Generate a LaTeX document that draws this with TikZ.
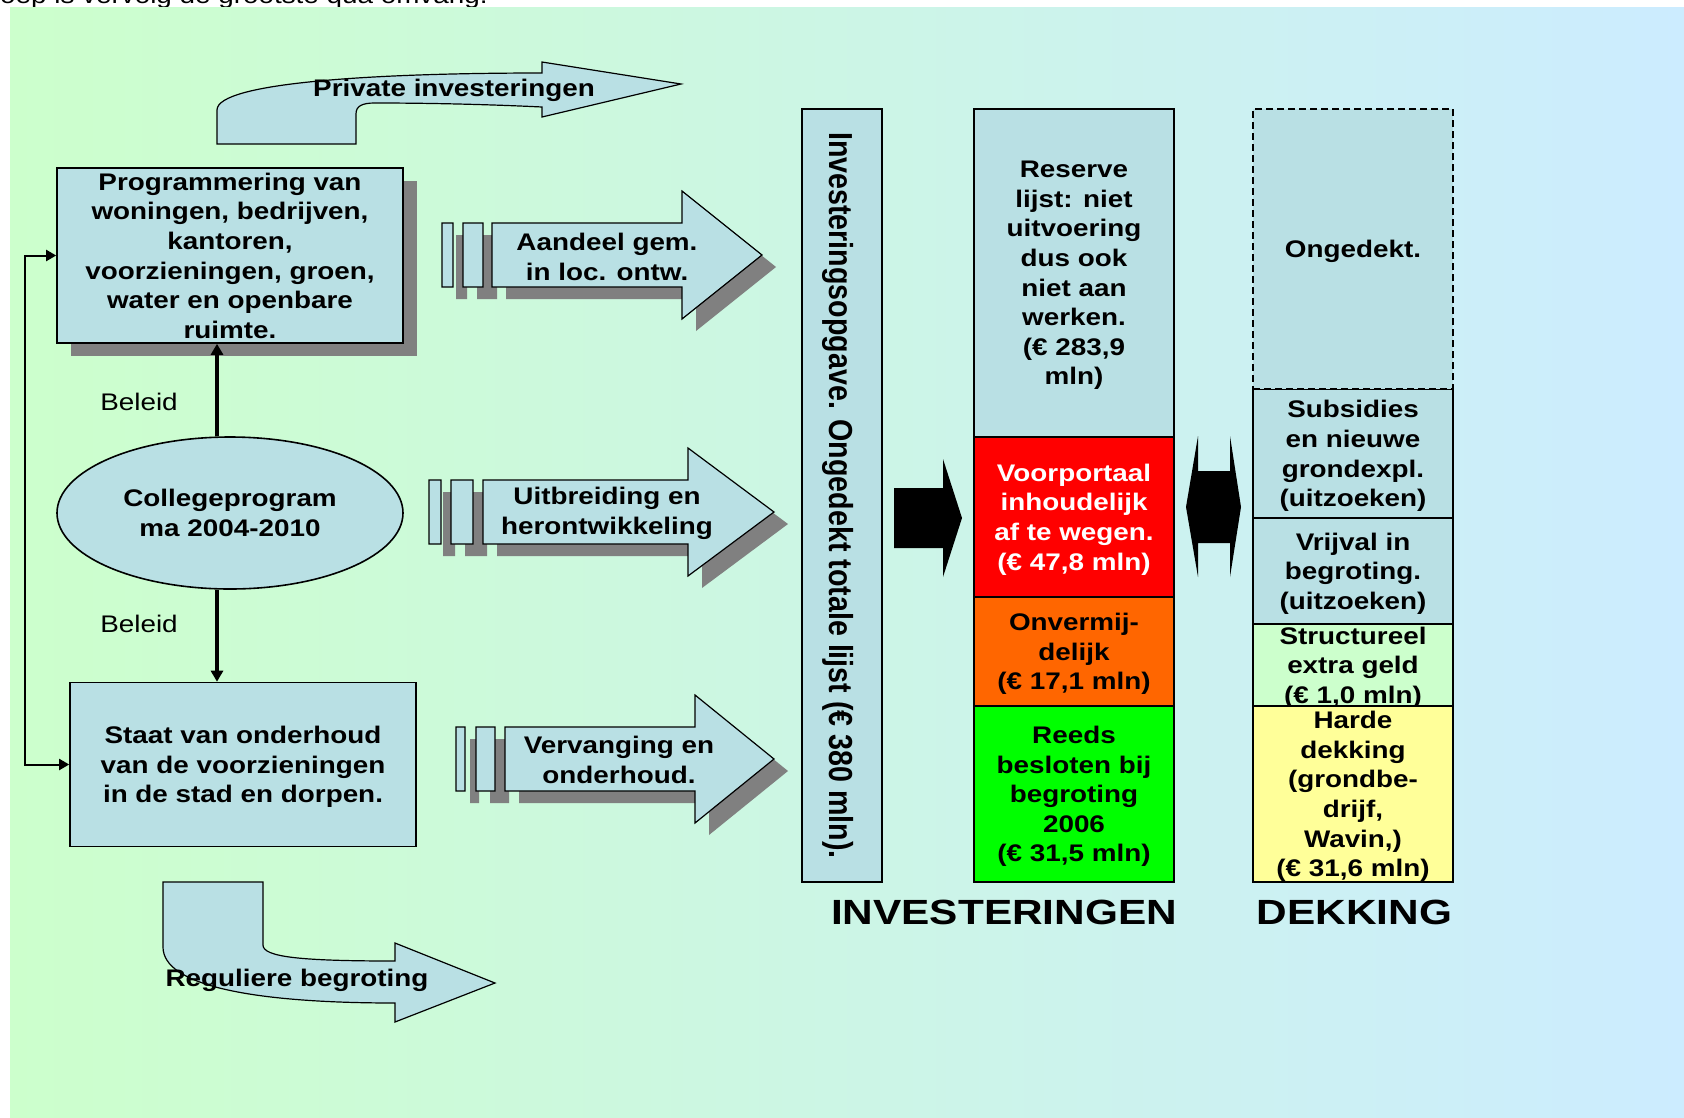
\documentclass[tikz,border=0pt]{standalone}
\usepackage{fontspec}
\setmainfont{Liberation Sans}[FakeStretch=1.16]
\newfontfamily\vfont{Liberation Sans}[FakeStretch=0.86]
\newfontfamily\tfont{Liberation Sans}[FakeStretch=1.21]
\usetikzlibrary{shapes.geometric,arrows.meta}
\definecolor{bgl}{RGB}{204,255,204}
\definecolor{bgr}{RGB}{204,236,255}
\definecolor{boxc}{RGB}{185,224,228}
\definecolor{shadowc}{RGB}{128,128,128}
\definecolor{redc}{RGB}{255,0,0}
\definecolor{orangec}{RGB}{255,102,0}
\definecolor{greenc}{RGB}{0,255,0}
\definecolor{lgreenc}{RGB}{204,255,204}
\definecolor{yellowc}{RGB}{255,255,153}
\tikzset{
  bx/.style={draw=black, line width=1.6pt, fill=boxc, inner sep=0pt, align=center,
    text depth=0pt, font=\bfseries\fontsize{24}{29.6}\selectfont},
  col/.style={bx, minimum width=200pt},
  lbl/.style={inner sep=0pt, align=center, font=\bfseries\fontsize{24}{29.6}\selectfont},
  regtext/.style={inner sep=0pt, font=\fontsize{24}{29.6}\selectfont},
  arrbox/.style={draw=black, line width=1.2pt, fill=boxc},
  conn/.style={line width=3.5pt, -{Triangle[length=11pt,width=12pt]}},
  loopc/.style={line width=2pt, {Triangle[length=10pt,width=11pt]}-{Triangle[length=10pt,width=11pt]}},
  bigtitle/.style={inner sep=0pt, font=\tfont\bfseries\fontsize{35}{40}\selectfont},
}
\newcommand\BarArr[8]{%
  \fill[shadowc] (#1+14,#8-20) rectangle (#2+14,#8+44)
    (#3+14,#8-20) rectangle (#4+14,#8+44)
    (#5+14,#8-20) -- (#6+14,#8-20) -- (#6+14,#8-52) -- (#7+14,#8+12) -- (#6+14,#8+76) -- (#6+14,#8+44) -- (#5+14,#8+44) -- cycle;
  \filldraw[arrbox] (#1,#8-32) rectangle (#2,#8+32)
    (#3,#8-32) rectangle (#4,#8+32)
    (#5,#8-32) -- (#6,#8-32) -- (#6,#8-64) -- (#7,#8) -- (#6,#8+64) -- (#6,#8+32) -- (#5,#8+32) -- cycle;
}
\begin{document}
\begin{tikzpicture}[x=1pt,y=-1pt]
\useasboundingbox (0,0) rectangle (1684,1117);
\fill[white] (0,0) rectangle (1684,1117);
% clipped caption remnant at the top
\begin{scope}
  \clip (0,0) rectangle (1684,7);
  \node[regtext, anchor=base west] (toptext) at (0,3.5) {oep is vervolg de grootste qua omvang.};
\end{scope}
% background panel
\shade[left color=bgl, right color=bgr] (10,7) rectangle (1684,1117);

% Private investeringen curved arrow
\filldraw[arrbox] (217,144) -- (217,110) .. controls (217,82) and (380,73) .. (542,73)
  -- (542,62) -- (681,84) -- (542,117) -- (542,107)
  .. controls (480,104) and (420,103) .. (375,103)
  .. controls (362,103) and (356,106) .. (356,114) -- (356,144) -- cycle;
\node[lbl] (priv) at (454,90) {Private investeringen};

% Programmering box with shadow
\fill[shadowc] (71,181) rectangle (417,356);
\node[bx, minimum width=346pt, minimum height=175pt] (prog) at (230,255.5)
  {Programmering van\\woningen, bedrijven,\\kantoren,\\voorzieningen, groen,\\water en openbare\\ruimte.};

% Collegeprogramma ellipse
\node[bx, ellipse, minimum width=346pt, minimum height=152pt] (coll) at (230,513)
  {Collegeprogram\\ma 2004-2010};

% Staat van onderhoud
\node[bx, minimum width=346pt, minimum height=164pt] (staat) at (243,764.5)
  {Staat van onderhoud\\van de voorzieningen\\in de stad en dorpen.};

% Beleid labels and connectors
\node[regtext] (beleidA) at (139,402) {Beleid};
\node[regtext] (beleidB) at (139,624) {Beleid};
\coordinate (ax) at (217,0);
\draw[conn] (ax |- coll.north) -- (ax |- prog.south);
\draw[conn] (ax |- coll.south) -- (ax |- staat.north);
\draw[loopc] (prog.west) -- ++(-31,0) |- (staat.west);

% bar arrows
\BarArr{442}{453}{463}{483}{492}{682}{762}{255}
\node[lbl] (aandeel) at (607,257) {Aandeel gem.\\in loc. ontw.};
\BarArr{429}{441}{451}{473}{483}{688}{774}{512}
\node[lbl] (uitbr) at (607,513.5) {Uitbreiding en\\herontwikkeling};
\BarArr{456}{465}{476}{495}{505}{695}{774}{759}
\node[lbl] (verv) at (619,760) {Vervanging en\\onderhoud.};

% Reguliere begroting curved arrow
\filldraw[arrbox] (163,882) -- (263,882) -- (263,945) .. controls (263,957) and (300,961) .. (395,961)
  -- (395,943) -- (495,983) -- (395,1022) -- (395,1003)
  .. controls (250,1003) and (163,985) .. (163,947) -- cycle;
\node[lbl] (regul) at (297,980) {Reguliere begroting};

% tall vertical box
\node[bx, rotate=-90, minimum width=773pt, minimum height=80pt,
  font=\vfont\bfseries\fontsize{33.3}{40}\selectfont] (tall) at (842,495.5)
  {Investeringsopgave. Ongedekt totale lijst (€ 380 mln).};

% black arrow
\fill[black] (894,488) -- (943,488) -- (943,459) -- (962,518) -- (943,577) -- (943,548) -- (894,548) -- cycle;

% investment column
\node[col, minimum height=328pt] (reserve) at (1074,273)
  {Reserve\\lijst: niet\\uitvoering\\dus ook\\niet aan\\werken.\\(€ 283,9\\mln)};
\node[col, fill=redc, text=white, minimum height=160pt] (voorp) at (1074,517)
  {Voorportaal\\inhoudelijk\\af te wegen.\\(€ 47,8 mln)};
\node[col, fill=orangec, minimum height=109pt] (onverm) at (1074,651.5)
  {Onvermij-\\delijk\\(€ 17,1 mln)};
\node[col, fill=greenc, minimum height=176pt] (reeds) at (1074,794)
  {Reeds\\besloten bij\\begroting\\2006\\(€ 31,5 mln)};

% double arrow
\fill[black] (1198,436) -- (1198,471) -- (1230,471) -- (1230,436) -- (1241,507) -- (1230,577)
  -- (1230,543) -- (1198,543) -- (1198,577) -- (1186,507) -- cycle;

% dekking column
\node[col, minimum height=129pt] (subs) at (1353,453.5)
  {Subsidies\\en nieuwe\\grondexpl.\\(uitzoeken)};
\node[col, minimum height=106pt] (vrij) at (1353,571)
  {Vrijval in\\begroting.\\(uitzoeken)};
\node[col, fill=lgreenc, minimum height=82pt] (struct) at (1353,665)
  {Structureel\\extra geld\\(€ 1,0 mln)};
\node[col, fill=yellowc, minimum height=176pt] (harde) at (1353,794)
  {Harde\\dekking\\(grondbe-\\drijf,\\Wavin,)\\(€ 31,6 mln)};
\node[col, dash pattern=on 7pt off 4pt, minimum height=280pt] (onged) at (1353,249)
  {Ongedekt.};

% titles
\node[bigtitle] (invtitle) at (1004,912) {INVESTERINGEN};
\node[bigtitle] (dektitle) at (1354.5,912) {DEKKING};
\end{tikzpicture}
\end{document}
